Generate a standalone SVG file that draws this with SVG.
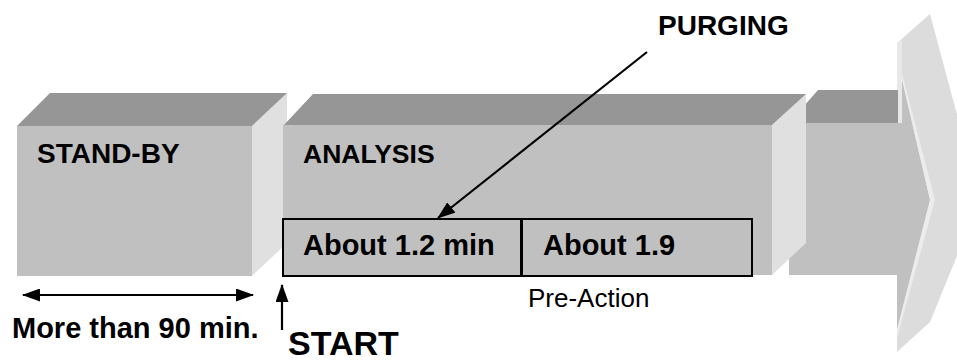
<svg xmlns="http://www.w3.org/2000/svg" width="957" height="363" viewBox="0 0 957 363">
<defs>
<style>
.top{fill:#969696}
.front{fill:#c0c0c0}
.side{fill:#e0e0e0}
.b{font-family:"Liberation Sans",Arial,sans-serif;font-weight:bold;fill:#000}
.r{font-family:"Liberation Sans",Arial,sans-serif;fill:#000}
.sub{fill:#c0c0c0;stroke:#000;stroke-width:2}
.con{stroke:#000;stroke-width:2.2;fill:none}
</style>
<marker id="ah" viewBox="0 0 18 13" refX="17" refY="6.5" markerWidth="18" markerHeight="13" markerUnits="userSpaceOnUse" orient="auto-start-reverse">
<path d="M0,0 L18,6.5 L0,13 Z" fill="#000"/>
</marker>
</defs>
<rect width="957" height="363" fill="#fff"/>
<g id="chevron">
<polygon points="897,43 930,14 980,200 930,322 897,352" fill="#dcdcdc"/>
<polygon points="897,58 930,200 897,330" fill="#c0c0c0"/>
<polygon points="930,200 897,330 897,338 935,200 897,54 897,58" fill="#ececec"/>
<polygon points="897,43 902,40 902,123 897,123" fill="#e8e8e8"/>
</g>
<g id="box-third">
<polygon class="top" points="789,123 818,90 898,90 898,123"/>
<rect class="front" x="789" y="123" width="109" height="152"/>
</g>
<g id="standby">
<polygon class="side" points="252,126 287,93 287,243 252,276"/>
<polygon class="top" points="17,126 50,93 287,93 252,126"/>
<rect class="front" x="17" y="126" width="235" height="150"/>
<text class="b" x="37" y="163" font-size="28">STAND-BY</text>
</g>
<g id="analysis">
<polygon class="side" points="772,125 806,94 806,243 772,275"/>
<polygon class="top" points="283,126 313,94 806,94 772,125"/>
<rect class="front" x="283" y="125" width="489" height="150"/>
<text class="b" x="303" y="163" font-size="26.5">ANALYSIS</text>
</g>
<g id="sub1">
<rect class="sub" x="283" y="219" width="238" height="57"/>
<text class="b" x="303" y="255" font-size="29">About 1.2 min</text>
</g>
<g id="sub2">
<rect class="sub" x="522" y="219" width="230" height="57"/>
<text class="b" x="543" y="255" font-size="29">About 1.9</text>
</g>
<g id="labels">
<text class="r" x="528" y="307" font-size="26">Pre-Action</text>
<text class="b" x="12" y="338" font-size="29">More than 90 min.</text>
<text class="b" x="288" y="355" font-size="34">START</text>
<text class="b" x="658" y="35" font-size="28">PURGING</text>
</g>
<g id="connectors">
<line class="con" x1="23" y1="295" x2="253" y2="295" marker-start="url(#ah)" marker-end="url(#ah)"/>
<line class="con" x1="282" y1="330" x2="282" y2="285" marker-end="url(#ah)"/>
<line class="con" x1="647" y1="52" x2="438" y2="218" marker-end="url(#ah)"/>
</g>
</svg>
